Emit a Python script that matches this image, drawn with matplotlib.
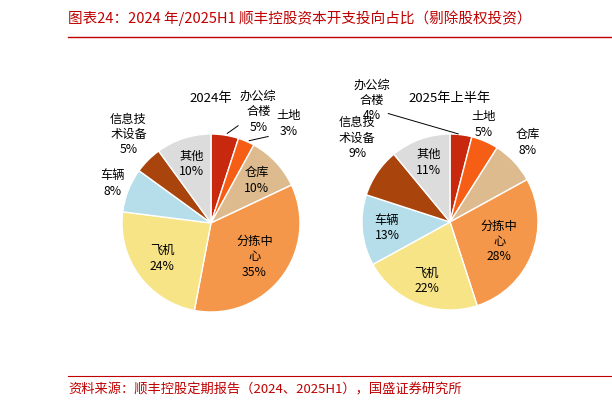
import numpy as np
import matplotlib
matplotlib.use("Agg")
import matplotlib.pyplot as plt

plt.rcParams['font.family'] = ['Noto Sans CJK SC', 'DejaVu Sans']

categories = ["办公综\n合楼", "土地", "仓库", "分拣中\n心", "飞机", "车辆", "信息技\n术设备", "其他"]
share_2024 = [5, 3, 10, 35, 24, 8, 5, 10]
share_2025h1 = [4, 5, 8, 28, 22, 13, 9, 11]
colors = ["#C8290E", "#F75E15", "#DDBB8E", "#F5974A", "#F6E487", "#B5DDEA", "#A9440C", "#DCDCDC"]

# label placement per slice: (angle in deg or None for slice middle, radius factor)
pos_2024 = [(67, 1.36), (52, 1.42), (None, 0.7), (None, 0.62), (None, 0.68), (158, 1.19), (133, 1.36), (None, 0.7)]
pos_2025 = [(122.6, 1.64), (71, 1.17), (45.7, 1.26), (None, 0.6), (None, 0.72), (None, 0.72), (138, 1.42), (None, 0.72)]
leader_2024 = [True, True, False, False, False, False, False, False]
leader_2025 = [True, False, False, False, False, False, False, False]

W, H = 612, 411
fig = plt.figure(figsize=(W / 100, H / 100), dpi=100)
red = "#C00000"


def draw_pie(cx, cy, r, values, pos, leaders, title):
    ax = fig.add_axes([(cx - r) / W, 1 - (cy + r) / H, 2 * r / W, 2 * r / H])
    wedges, _ = ax.pie(values, colors=colors, startangle=90, counterclock=False,
                       wedgeprops=dict(edgecolor="white", linewidth=1))
    ax.set_xlim(-1, 1)
    ax.set_ylim(-1, 1)
    ax.set_aspect("equal")
    ax.axis("off")
    for w, cat, v, (ang, rf), lead in zip(wedges, categories, values, pos, leaders):
        mid = np.deg2rad((w.theta1 + w.theta2) / 2)
        a = mid if ang is None else np.deg2rad(ang)
        x, y = rf * np.cos(a), rf * np.sin(a)
        ax.text(x, y, f"{cat}\n{v}%", ha="center", va="center", fontsize=8.8, linespacing=1.25,
                clip_on=False)
        if lead:
            ex, ey = np.cos(mid), np.sin(mid)
            ax.annotate("", xy=(ex, ey), xytext=(x + 0.15 if ang > 90 else x - 0.2, y - 0.14),
                        arrowprops=dict(arrowstyle="-", color="black", lw=0.7), annotation_clip=False)
    ax.text(0, 1.4, title, ha="center", va="center", fontsize=9.5, clip_on=False)


draw_pie(211, 223, 89, share_2024, pos_2024, leader_2024, "2024年")
draw_pie(450, 222, 88, share_2025h1, pos_2025, leader_2025, "2025年上半年")

fig.text(68 / W, 1 - 18 / H, "图表24：2024 年/2025H1 顺丰控股资本开支投向占比（剔除股权投资）",
         color=red, fontsize=10.5, style="italic", ha="left", va="center")
fig.add_artist(plt.Line2D([68 / W, 1], [1 - 37 / H] * 2, color=red, lw=1))
fig.add_artist(plt.Line2D([68 / W, 1], [1 - 376 / H] * 2, color=red, lw=0.8))
fig.text(68 / W, 1 - 390 / H, "资料来源：顺丰控股定期报告（2024、2025H1），国盛证券研究所",
         color=red, fontsize=9.5, style="italic", ha="left", va="center")

fig.savefig("out.png", dpi=100)
